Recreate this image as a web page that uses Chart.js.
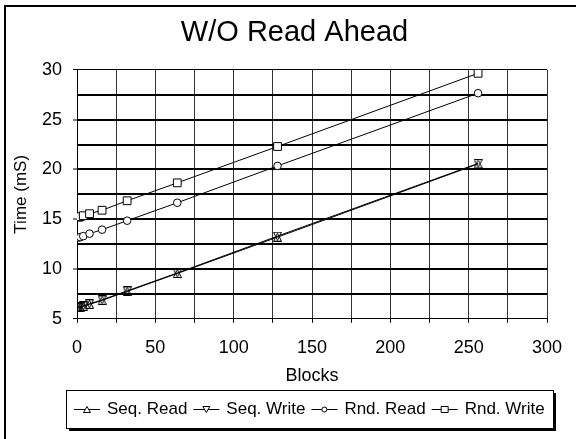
<!DOCTYPE html>
<html>
<head>
<meta charset="utf-8">
<script src="https://cdn.jsdelivr.net/npm/chart.js@4/dist/chart.umd.min.js"></script>
<style>
  html, body { margin: 0; padding: 0; background: #fff; }
  #wrap { width: 576px; height: 439px; position: relative; }
</style>
</head>
<body>
<div id="wrap"><canvas id="chart"></canvas></div>
<script>
const blocks = [1, 2, 4, 8, 16, 32, 64, 128, 256];
const seqRead = [6.1, 6.15, 6.25, 6.45, 6.85, 7.75, 9.55, 13.2, 20.55];
const seqWrite = [6.15, 6.2, 6.3, 6.5, 6.9, 7.8, 9.6, 13.3, 20.6];
const rndRead = [13.15, 13.2, 13.3, 13.55, 13.95, 14.85, 16.65, 20.35, 27.65];
const rndWrite = [15.2, 15.25, 15.35, 15.55, 15.9, 16.85, 18.65, 22.3, 29.65];
const seriesNames = ['Seq. Read', 'Seq. Write', 'Rnd. Read', 'Rnd. Write'];
const markerKinds = ['up', 'down', 'circle', 'rect'];

const FONT = "'Liberation Sans', Arial, sans-serif";
Chart.defaults.font.family = FONT;
Chart.defaults.color = '#000';

const toPoints = (values) => values.map((y, i) => ({ x: blocks[i], y }));

// open triangles drawn in the same box, so the two seq series overlay as an hourglass
const triangleMarker = (up) => {
    const c = document.createElement('canvas');
    c.width = 9;
    c.height = 9;
    const g = c.getContext('2d');
    g.strokeStyle = '#000';
    g.lineWidth = 1;
    g.beginPath();
    if (up) {
        g.moveTo(4.5, 0.5); g.lineTo(8.5, 8.5); g.lineTo(0.5, 8.5);
    } else {
        g.moveTo(0.5, 0.5); g.lineTo(8.5, 0.5); g.lineTo(4.5, 8.5);
    }
    g.closePath();
    g.stroke();
    return c;
};

const drawSwatchMarker = (g, kind, cx, cy) => {
    g.beginPath();
    if (kind === 'up') {
        g.moveTo(cx, cy - 3); g.lineTo(cx + 3.5, cy + 3); g.lineTo(cx - 3.5, cy + 3); g.closePath();
    } else if (kind === 'down') {
        g.moveTo(cx - 3.5, cy - 3); g.lineTo(cx + 3.5, cy - 3); g.lineTo(cx, cy + 3); g.closePath();
    } else if (kind === 'circle') {
        g.arc(cx, cy, 2.5, 0, Math.PI * 2);
    } else {
        g.rect(cx - 3.5, cy - 3, 7, 6);
    }
    g.fill();
    g.stroke();
};

// outer frame plus the boxed, shadowed legend at the bottom
const framePlugin = {
    id: 'frame',
    beforeDraw(chart) {
        const { ctx } = chart;
        ctx.save();
        ctx.fillStyle = '#000';
        ctx.fillRect(4, 5, 2, chart.height - 5);
        ctx.fillRect(4, 5, chart.width - 4, 2);
        ctx.restore();
    },
    afterDraw(chart) {
        const { ctx } = chart;
        const cy = 409.5;
        const boxLeft = 66, boxTop = 390, boxBottom = 428;
        ctx.save();
        ctx.font = '17px ' + FONT;
        let x = 74;
        const items = chart.data.datasets.map((ds, i) => {
            const item = { x, text: ds.label, kind: markerKinds[i] };
            x += 33 + ctx.measureText(ds.label).width + 6;
            return item;
        });
        const boxRight = Math.round(x - 6 + 8);
        ctx.fillStyle = '#000';
        ctx.fillRect(boxLeft + 3, boxTop + 3, boxRight - boxLeft, boxBottom - boxTop);
        ctx.fillStyle = '#fff';
        ctx.fillRect(boxLeft, boxTop, boxRight - boxLeft, boxBottom - boxTop);
        ctx.strokeStyle = '#000';
        ctx.lineWidth = 1;
        ctx.strokeRect(boxLeft + 0.5, boxTop + 0.5, boxRight - boxLeft, boxBottom - boxTop);
        items.forEach((item) => {
            ctx.strokeStyle = '#000';
            ctx.beginPath();
            ctx.moveTo(item.x, cy);
            ctx.lineTo(item.x + 26, cy);
            ctx.stroke();
            ctx.fillStyle = '#fff';
            drawSwatchMarker(ctx, item.kind, item.x + 13, cy);
            ctx.fillStyle = '#000';
            ctx.textBaseline = 'middle';
            ctx.textAlign = 'left';
            ctx.fillText(item.text, item.x + 33, cy);
        });
        ctx.restore();
    }
};

const common = {
    showLine: true,
    borderColor: '#000',
    borderWidth: 1,
    pointBackgroundColor: '#fff',
    pointBorderColor: '#000',
    pointBorderWidth: 1
};

new Chart(document.getElementById('chart'), {
    type: 'scatter',
    data: {
        datasets: [
            { ...common, label: seriesNames[0], data: toPoints(seqRead), pointStyle: triangleMarker(true), pointRadius: 4.5 },
            { ...common, label: seriesNames[1], data: toPoints(seqWrite), pointStyle: triangleMarker(false), pointRadius: 4.5 },
            { ...common, label: seriesNames[2], data: toPoints(rndRead), pointStyle: 'circle', pointRadius: 3.8 },
            { ...common, label: seriesNames[3], data: toPoints(rndWrite), pointStyle: 'rect', pointRadius: 5.5 }
        ]
    },
    options: {
        responsive: true,
        maintainAspectRatio: false,
        animation: false,
        layout: { padding: { left: 13, right: 0, top: 0, bottom: 46 } },
        scales: {
            x: {
                type: 'linear',
                min: 0,
                max: 300,
                afterFit: (scale) => { scale.paddingRight = 29; },
                ticks: {
                    stepSize: 25,
                    autoSkip: false,
                    maxRotation: 0,
                    padding: 14,
                    font: { size: 18 },
                    callback: (v) => (v % 50 === 0 ? v : '')
                },
                grid: { color: '#333', lineWidth: 1, tickLength: 4, tickColor: '#000' },
                border: { color: '#000', width: 1 },
                title: { display: true, text: 'Blocks', font: { size: 18 }, padding: { top: -7, bottom: 6 } }
            },
            y: {
                min: 5,
                max: 30,
                afterFit: (scale) => { scale.width = 64; },
                ticks: {
                    stepSize: 2.5,
                    autoSkip: false,
                    padding: 11,
                    font: { size: 18 },
                    callback: (v) => (v % 5 === 0 ? v : '')
                },
                grid: {
                    color: '#000',
                    lineWidth: (c) => (c.tick && (c.tick.value === 5 || c.tick.value === 30) ? 1 : 2),
                    tickLength: 4,
                    tickWidth: 1,
                    tickColor: (c) => (c.tick && c.tick.value % 5 === 0 ? '#000' : 'rgba(0,0,0,0)')
                },
                border: { color: '#000', width: 1 },
                title: { display: true, text: 'Time (mS)', font: { size: 17, lineHeight: 1 }, padding: { top: 0, bottom: 0 } }
            }
        },
        plugins: {
            title: {
                display: true,
                text: 'W/O Read Ahead',
                font: { size: 29, weight: 'normal' },
                padding: { top: 16, bottom: 19 }
            },
            legend: { display: false },
            tooltip: { enabled: false }
        }
    },
    plugins: [framePlugin]
});
</script>
</body>
</html>
